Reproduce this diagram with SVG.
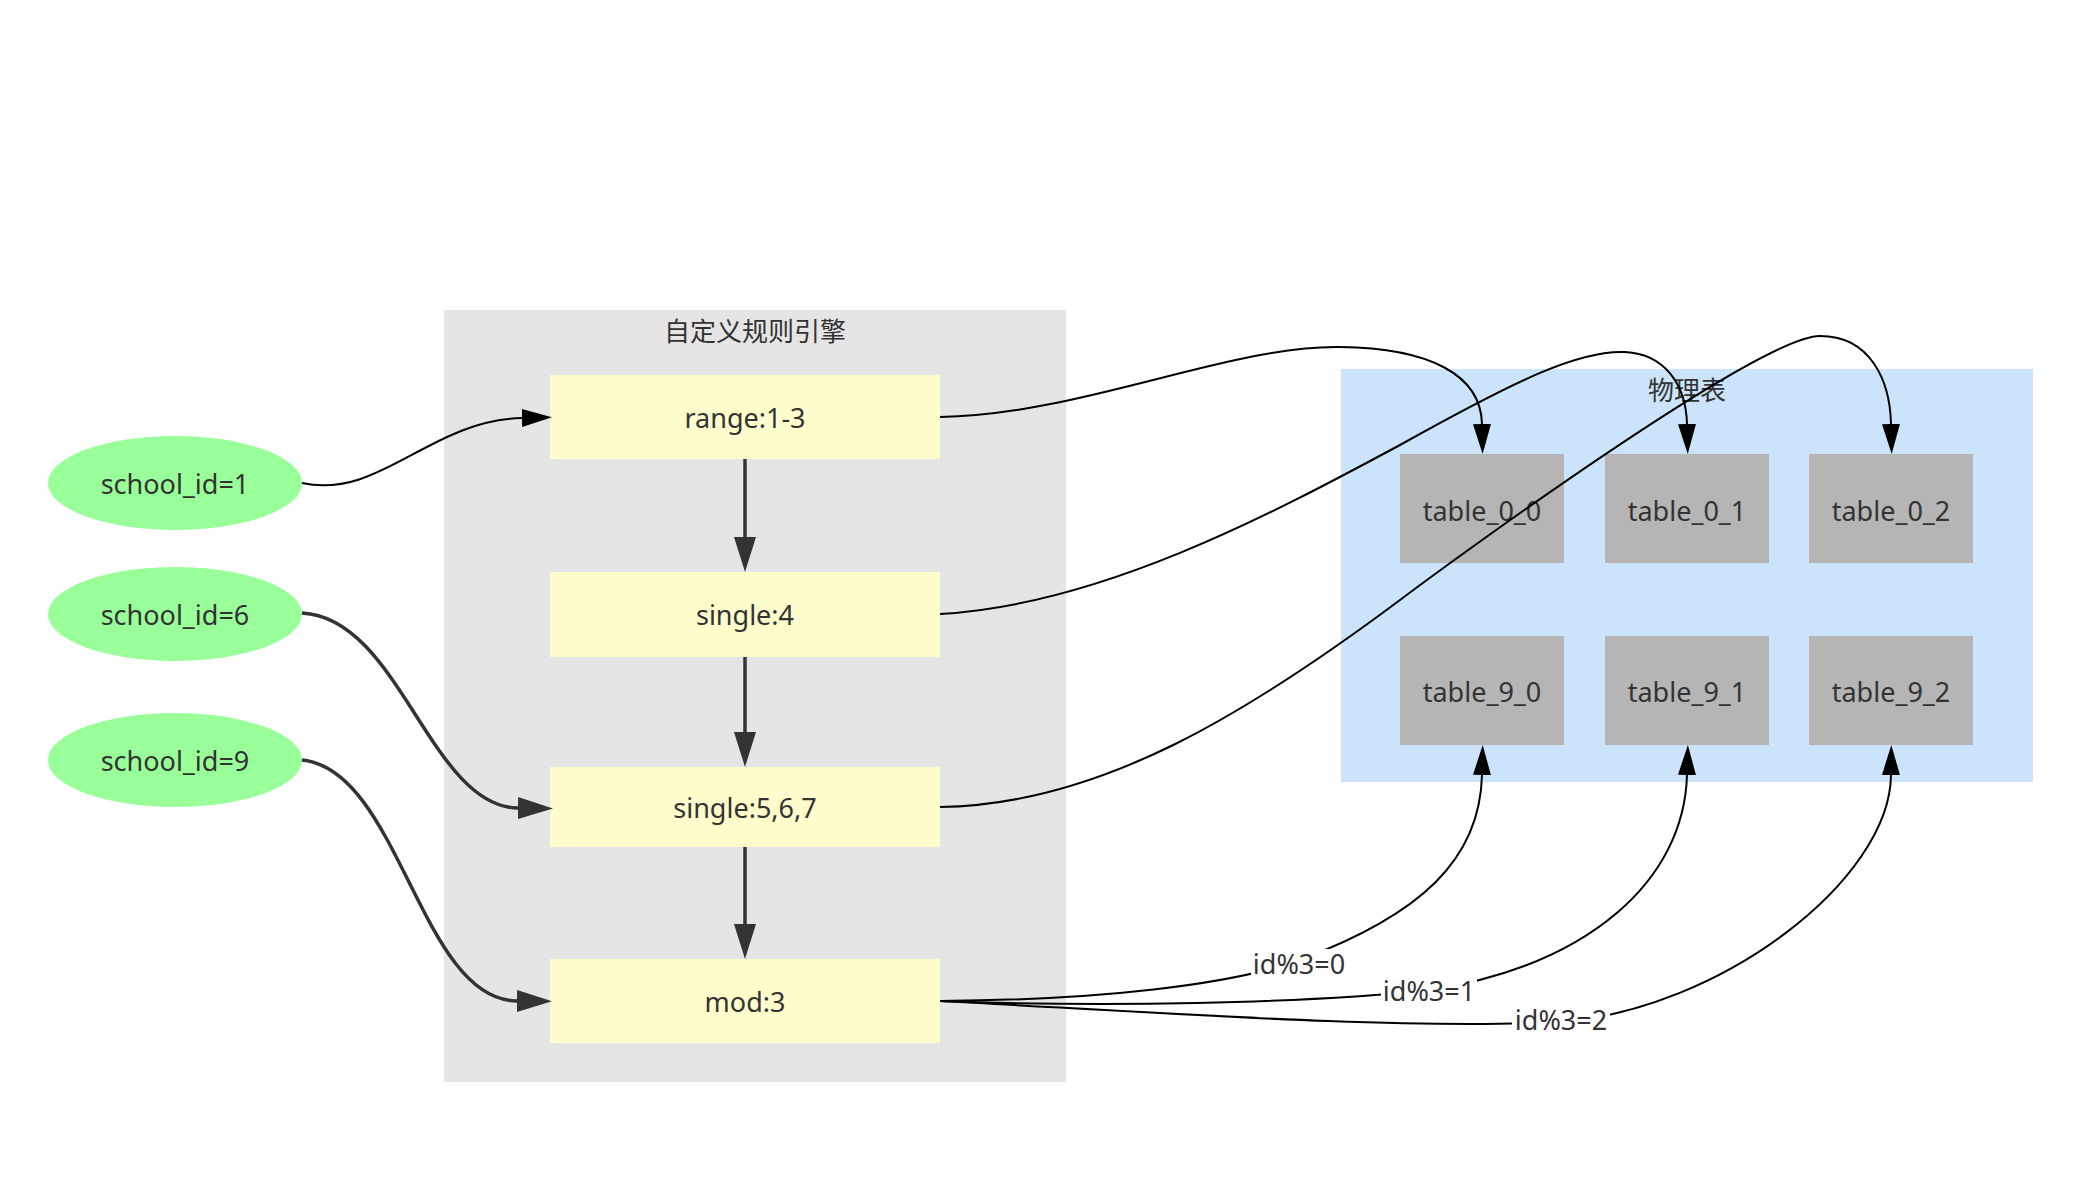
<svg xmlns="http://www.w3.org/2000/svg" width="2080" height="1187" viewBox="0 0 2080 1187">
<style>
text{font-family:"Noto Sans","Noto Sans CJK SC",sans-serif;fill:#333;text-anchor:middle}
.lbl{font-size:27px}
.title{font-size:26px;font-family:"Noto Sans CJK SC","Noto Sans",sans-serif}
.thin{fill:none;stroke:#000;stroke-width:2}
.thick{fill:none;stroke:#333;stroke-width:3.5}
.ell{fill:#99ff99}
.rule{fill:#fffdcc}
.tbl{fill:#b5b5b5}
</style>
<defs>
<marker id="ah" viewBox="0 0 30 18" refX="0" refY="9" markerWidth="30" markerHeight="18" markerUnits="userSpaceOnUse" orient="auto"><path d="M0,0 L30,9 L0,18 z" fill="#000"/></marker>
<marker id="ahd" viewBox="0 0 35 22" refX="0" refY="11" markerWidth="35" markerHeight="22" markerUnits="userSpaceOnUse" orient="auto"><path d="M0,0 L35,11 L0,22 z" fill="#333"/></marker>
</defs>
<rect width="2080" height="1187" fill="#fff"/>
<g id="cluster_rules">
<rect x="444" y="310" width="622" height="772" fill="#e5e5e5"/>
<text class="title" x="755" y="341">自定义规则引擎</text>
</g>
<g id="cluster_tables">
<rect x="1341" y="369" width="692" height="413" fill="#cbe4fb"/>
<text class="title" x="1687" y="400">物理表</text>
</g>
<g id="school_id_1"><ellipse class="ell" cx="175" cy="483" rx="127" ry="47"/><text class="lbl" x="175" y="494">school_id=1</text></g>
<g id="school_id_6"><ellipse class="ell" cx="175" cy="614" rx="127" ry="47"/><text class="lbl" x="175" y="625">school_id=6</text></g>
<g id="school_id_9"><ellipse class="ell" cx="175" cy="760" rx="127" ry="47"/><text class="lbl" x="175" y="771">school_id=9</text></g>
<g id="range"><rect class="rule" x="550" y="375" width="390" height="84"/><text class="lbl" x="745" y="428">range:1-3</text></g>
<g id="single4"><rect class="rule" x="550" y="572" width="390" height="85"/><text class="lbl" x="745" y="625">single:4</text></g>
<g id="single567"><rect class="rule" x="550" y="767" width="390" height="80"/><text class="lbl" x="745" y="818">single:5,6,7</text></g>
<g id="mod3"><rect class="rule" x="550" y="959" width="390" height="84"/><text class="lbl" x="745" y="1012">mod:3</text></g>
<g id="table_0_0"><rect class="tbl" x="1400" y="454" width="164" height="109"/><text class="lbl" x="1482" y="521">table_0_0</text></g>
<g id="table_0_1"><rect class="tbl" x="1605" y="454" width="164" height="109"/><text class="lbl" x="1687" y="521">table_0_1</text></g>
<g id="table_0_2"><rect class="tbl" x="1809" y="454" width="164" height="109"/><text class="lbl" x="1891" y="521">table_0_2</text></g>
<g id="table_9_0"><rect class="tbl" x="1400" y="636" width="164" height="109"/><text class="lbl" x="1482" y="702">table_9_0</text></g>
<g id="table_9_1"><rect class="tbl" x="1605" y="636" width="164" height="109"/><text class="lbl" x="1687" y="702">table_9_1</text></g>
<g id="table_9_2"><rect class="tbl" x="1809" y="636" width="164" height="109"/><text class="lbl" x="1891" y="702">table_9_2</text></g>
<g id="connectors">
<path class="thin" d="M302,483 C380,500 430,420 522,418" marker-end="url(#ah)"/>
<path class="thick" d="M302,613 C400,618 430,807 518,808" marker-end="url(#ahd)"/>
<path class="thick" d="M302,760 C400,770 420,1000 517,1001" marker-end="url(#ahd)"/>
<path class="thick" d="M745,459 L745,537" marker-end="url(#ahd)"/>
<path class="thick" d="M745,657 L745,732" marker-end="url(#ahd)"/>
<path class="thick" d="M745,847 L745,924" marker-end="url(#ahd)"/>
<path class="thin" d="M940,417 C1080,415 1230,345 1340,347 C1430,348 1481,375 1482,424" marker-end="url(#ah)"/>
<path class="thin" d="M940,614 C1100,605 1270,515 1400,445 C1520,378 1580,350 1625,352 C1665,354 1686,385 1687,424" marker-end="url(#ah)"/>
<path class="thin" d="M940,807 C1100,805 1250,712 1400,600 C1460,555 1760,336 1820,336 C1870,336 1890,380 1891,424" marker-end="url(#ah)"/>
<path class="thin" d="M940,1001 C1100,1000 1230,985 1300,960 C1420,915 1480,860 1482,775" marker-end="url(#ah)"/>
<path class="thin" d="M940,1001 C1100,1007 1300,1004 1430,990 C1590,965 1684,880 1687,775" marker-end="url(#ah)"/>
<path class="thin" d="M940,1001 C1150,1012 1400,1030 1560,1022 C1720,1010 1890,880 1891,775" marker-end="url(#ah)"/>
<rect x="1251" y="949" width="96" height="33" fill="#fff"/>
<text class="lbl" x="1299" y="974">id%3=0</text>
<rect x="1381" y="976" width="96" height="32" fill="#fff"/>
<text class="lbl" x="1429" y="1001">id%3=1</text>
<rect x="1512" y="1005" width="98" height="32" fill="#fff"/>
<text class="lbl" x="1561" y="1030">id%3=2</text>
</g>
</svg>
